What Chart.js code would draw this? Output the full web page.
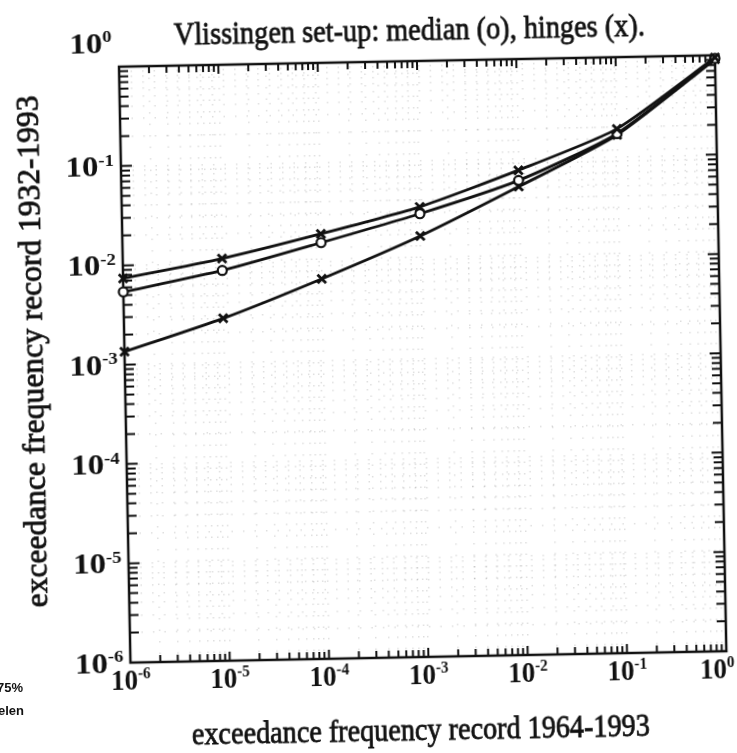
<!DOCTYPE html>
<html>
<head>
<meta charset="utf-8">
<script src="https://cdn.jsdelivr.net/npm/chart.js@4.4.1/dist/chart.umd.min.js"></script>
<style>
  html, body { margin: 0; padding: 0; background: #fff; }
  #wrap { width: 737px; height: 753px; position: relative; overflow: hidden; background: #fff; }
  /* the printed page sits slightly skewed */
  #chart { display: block; transform: rotate(-1.1deg); transform-origin: 50% 50%; }
  .edge { position: absolute; font: bold 13px "Liberation Sans", sans-serif; color: #111; white-space: nowrap; }
</style>
</head>
<body>
<div id="wrap">
  <canvas id="chart" width="737" height="753"></canvas>
  <span class="edge" style="left:-3px; top:680px;">75%</span>
  <span class="edge" style="left:-2px; top:703px;">elen</span>
</div>
<script>
// exceedance frequencies, record 1964-1993 (x) against record 1932-1993 (y)
const xValues = [1e-6, 1e-5, 1e-4, 1e-3, 1e-2, 1e-1, 1];
const upperHinge = [0.0074, 0.0112, 0.019, 0.034, 0.076, 0.19, 0.95];
const median = [0.0054, 0.0085, 0.0155, 0.029, 0.060, 0.17, 0.93];
const lowerHinge = [0.00135, 0.0028, 0.0067, 0.0173, 0.052, 0.165, 0.91];
const decadeExponents = [-6, -5, -4, -3, -2, -1, 0];

const titleText = 'Vlissingen set-up: median (o), hinges (x).';
const xTitle = 'exceedance frequency record 1964-1993';
const yTitle = 'exceedance frequency record 1932-1993';

const SERIF = '"Liberation Serif", "DejaVu Serif", serif';
const INK = '#111';

function logTickValues(exps) {
  const out = [];
  exps.forEach((e, i) => {
    const base = Math.pow(10, e);
    if (i === exps.length - 1) { out.push(base); return; }
    for (let k = 1; k <= 9; k++) out.push(k * base);
  });
  return out;
}
const tickValues = logTickValues(decadeExponents);

function isDecade(v) {
  const l = Math.log10(v);
  return Math.abs(l - Math.round(l)) < 1e-9;
}

function toPoints(ys) {
  return xValues.map((x, i) => ({ x, y: ys[i] }));
}

// centred text squeezed (or stretched) horizontally to a given width
function drawSpan(ctx, text, x, y, size, width, angle) {
  ctx.save();
  ctx.translate(x, y);
  if (angle) ctx.rotate(angle);
  ctx.font = `${size}px ${SERIF}`;
  const sx = width / ctx.measureText(text).width;
  ctx.scale(sx, 1);
  ctx.textAlign = 'center';
  ctx.textBaseline = 'alphabetic';
  ctx.lineWidth = 0.8;
  ctx.strokeStyle = INK;
  ctx.fillText(text, 0, 0);
  ctx.strokeText(text, 0, 0);
  ctx.restore();
}

// "10" with a raised exponent
function drawPower(ctx, exp, x, y, align, sx) {
  const baseFont = `bold 30px ${SERIF}`;
  const supFont = `bold 17px ${SERIF}`;
  const sup = String(exp);
  ctx.font = baseFont;
  const wb = ctx.measureText('10').width * sx;
  ctx.font = supFont;
  const ws = ctx.measureText(sup).width * sx;
  const total = wb + ws;
  let left = x - total / 2;
  if (align === 'right') left = x - total;
  if (align === 'left') left = x;
  ctx.save();
  ctx.textAlign = 'left';
  ctx.textBaseline = 'middle';
  ctx.translate(left, y);
  ctx.scale(sx, 1);
  ctx.font = baseFont;
  ctx.fillText('10', 0, 0);
  ctx.font = supFont;
  ctx.fillText(sup, wb / sx, -7);
  ctx.restore();
  return total;
}

const framePlugin = {
  id: 'frame',
  beforeDatasetsDraw(chart) {
    const { ctx, chartArea: a, scales } = chart;
    ctx.save();
    ctx.strokeStyle = INK;
    ctx.lineWidth = 2.5;
    ctx.strokeRect(a.left, a.top, a.right - a.left, a.bottom - a.top);
    ctx.lineWidth = 2;
    ctx.beginPath();
    tickValues.forEach(v => {
      const len = isDecade(v) ? 9 : 7;
      const px = scales.x.getPixelForValue(v);
      ctx.moveTo(px, a.bottom); ctx.lineTo(px, a.bottom - len);
      ctx.moveTo(px, a.top); ctx.lineTo(px, a.top + len);
      const py = scales.y.getPixelForValue(v);
      ctx.moveTo(a.left, py); ctx.lineTo(a.left + len + 2, py);
      ctx.moveTo(a.right, py); ctx.lineTo(a.right - len - 2, py);
    });
    ctx.stroke();
    ctx.restore();
  },
  afterDraw(chart) {
    const { ctx, chartArea: a, scales } = chart;
    ctx.save();
    ctx.fillStyle = INK;

    const last = decadeExponents.length - 1;
    decadeExponents.forEach((e, i) => {
      const v = Math.pow(10, e);
      const px = scales.x.getPixelForValue(v);
      if (i === last) {
        drawPower(ctx, e, a.right + 8, a.bottom + 19, 'right', 0.9);
      } else {
        drawPower(ctx, e, px, a.bottom + 19, 'center', 0.9);
      }
      const py = scales.y.getPixelForValue(v);
      drawPower(ctx, e, a.left - 7, i === last ? a.top - 22 : py + 2, 'right', 1.1);
    });

    ctx.fillStyle = INK;
    drawSpan(ctx, titleText, 416, 41, 32, 471);
    drawSpan(ctx, xTitle, 414, 741, 32, 458);
    drawSpan(ctx, yTitle, 43, 345, 32, 512, -Math.PI / 2);
    ctx.restore();
  }
};

const lineStyle = {
  borderColor: INK,
  borderWidth: 2.8,
  pointBorderColor: INK,
  tension: 0.2,
  clip: false
};

new Chart(document.getElementById('chart'), {
  type: 'line',
  data: {
    datasets: [
      { ...lineStyle, label: 'upper hinge', data: toPoints(upperHinge),
        pointStyle: 'crossRot', pointRadius: 6, pointBorderWidth: 2.8 },
      { ...lineStyle, label: 'median', data: toPoints(median),
        pointStyle: 'circle', pointRadius: 4.5, pointBorderWidth: 2.2, pointBackgroundColor: '#fff' },
      { ...lineStyle, label: 'lower hinge', data: toPoints(lowerHinge),
        pointStyle: 'crossRot', pointRadius: 6, pointBorderWidth: 2.8 }
    ]
  },
  options: {
    responsive: false,
    animation: false,
    devicePixelRatio: 1,
    layout: { padding: { left: 125, right: 16, top: 62, bottom: 95 } },
    plugins: { legend: { display: false }, tooltip: { enabled: false }, title: { display: false } },
    scales: {
      x: {
        type: 'logarithmic',
        min: 1e-6, max: 1,
        afterBuildTicks: s => { s.ticks = tickValues.map(value => ({ value })); },
        ticks: { display: false },
        grid: { color: 'rgba(0,0,0,0.13)', lineWidth: 1.5, drawTicks: false },
        border: { display: false, dash: [1.5, 10] }
      },
      y: {
        type: 'logarithmic',
        min: 1e-6, max: 1,
        afterBuildTicks: s => { s.ticks = tickValues.map(value => ({ value })); },
        ticks: { display: false },
        grid: { color: 'rgba(0,0,0,0.13)', lineWidth: 1.5, drawTicks: false },
        border: { display: false, dash: [1.5, 10] }
      }
    }
  },
  plugins: [framePlugin]
});
</script>
</body>
</html>
